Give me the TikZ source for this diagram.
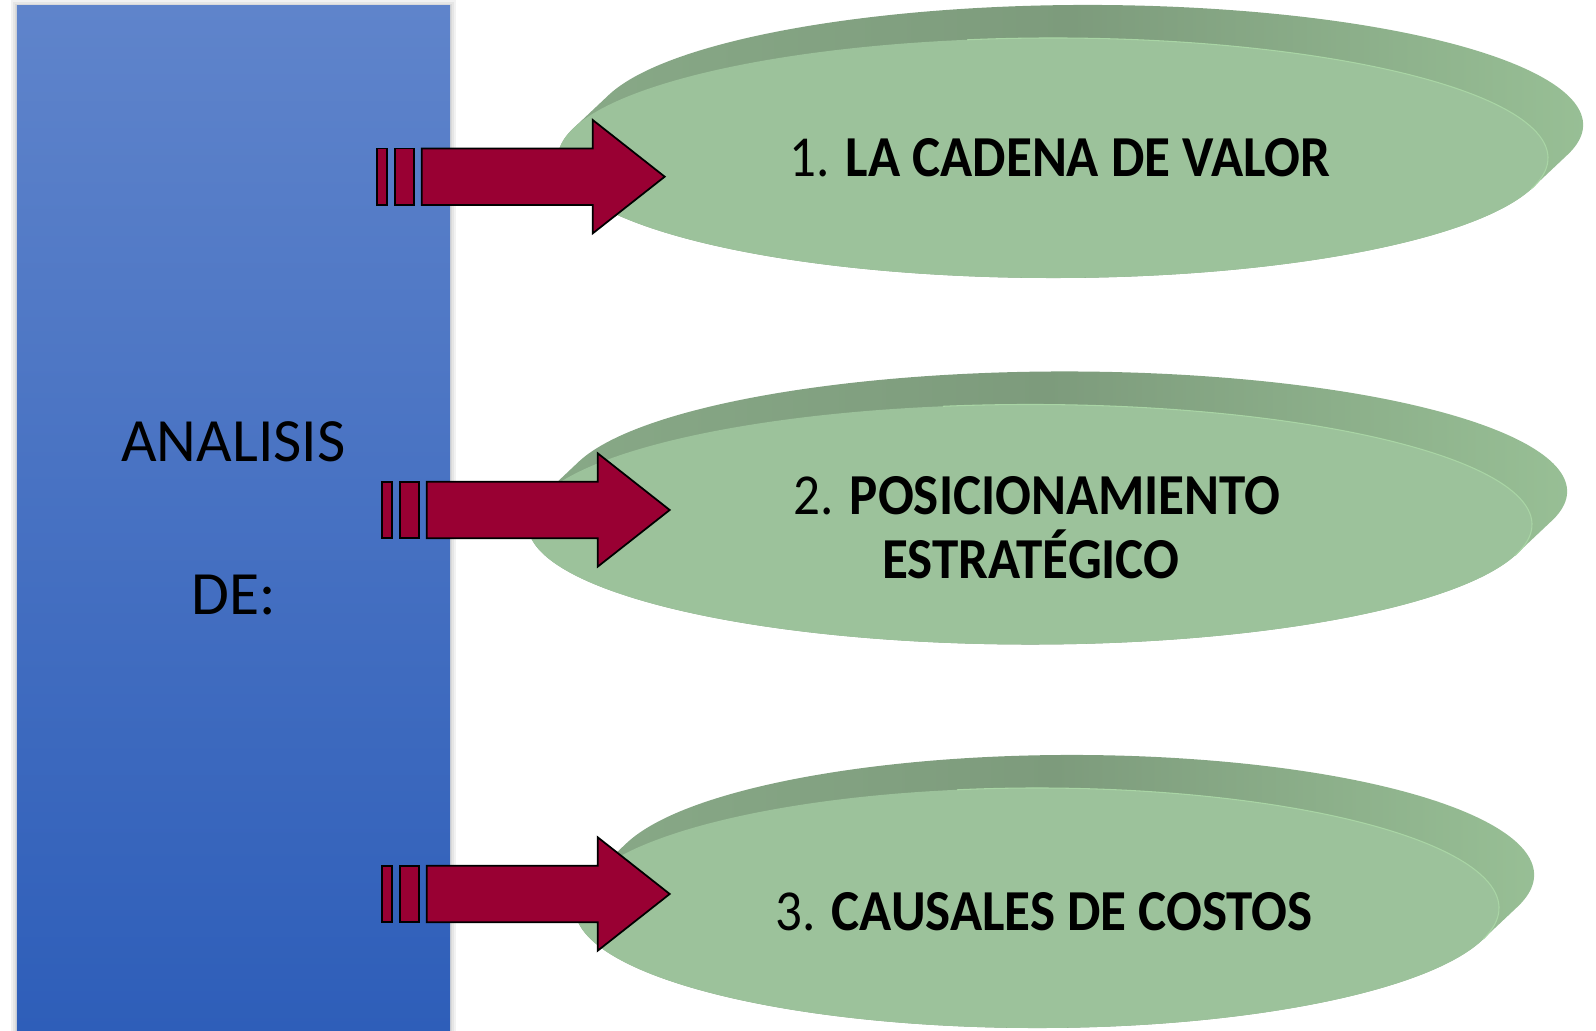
\documentclass[tikz,border=0pt]{standalone}
\usepackage{fontspec}
\setmainfont{Carlito}
\newfontfamily\ovalfont[FakeStretch=0.915]{Carlito}
\usetikzlibrary{shapes.geometric}

\definecolor{boxtop}{HTML}{5F84CB}
\definecolor{boxbottom}{HTML}{2E5EB9}
\definecolor{ovalgreen}{HTML}{9CC29B}
\definecolor{rimdark}{HTML}{7D9B7C}
\definecolor{rimlight}{HTML}{AEDDAA}
\definecolor{arrowred}{HTML}{990033}

\tikzset{
	box/.style={rectangle,top color=boxtop,bottom color=boxbottom,minimum width=86.6mm,minimum height=205mm,inner sep=0pt,align=center,font=\fontsize{35}{86.8}\selectfont},
	oval/.style={ellipse,fill=ovalgreen,inner sep=0pt,minimum height=48mm},
	ovaltext/.style={inner sep=0pt,xshift=1.4mm,align=center,font=\ovalfont\fontsize{33}{36.3}\selectfont},
	rim/.style={left color=rimdark!60!ovalgreen,right color=rimdark!40!rimlight,middle color=rimdark},
	ovaledge/.style={draw=rimlight!70!ovalgreen,line width=0.6pt},
	bar/.style={fill=arrowred,draw=black,line width=1pt,line join=miter}
}

\begin{document}
\begin{tikzpicture}[x=0.2mm,y=0.2mm]
	\useasboundingbox (0,0) rectangle (1596,1031);
	% soft shadow round the box
	\foreach \s in {2,4,6}
		\fill[black,opacity=0.05] (17-\s,0) rectangle (450+\s,1025+\s);
	\node[box] (analisis) at (233.5,512.5) {ANALISIS\\DE:};
	% rims of the three discs
	\foreach \cx/\cy/\rx in {1053/873/495,1030/506.5/502,1037/123/462}
		\path[rim] ({\cx+35+\rx*cos(165)},{\cy+33+120*sin(165)}) arc[start angle=165,end angle=-15,x radius=\rx,y radius=120]
			-- ({\cx+\rx*cos(15)},{\cy-120*sin(15)}) arc[start angle=-15,end angle=-195,x radius=\rx,y radius=120] -- cycle;
	% faces of the discs
	\node[oval,minimum width=198mm,label={[ovaltext]center:1. \textbf{LA CADENA DE VALOR}}] (valor) at (1053,873) {};
	\node[oval,minimum width=200.8mm,label={[ovaltext,yshift=-0.6mm]center:2. \textbf{POSICIONAMIENTO}\\\textbf{ESTRATÉGICO}\kern2.4mm}] (posicion) at (1030,506.5) {};
	\node[oval,minimum width=184.8mm,label={[ovaltext,yshift=-0.8mm]center:3. \textbf{CAUSALES DE COSTOS}}] (costos) at (1037,123) {};
	\foreach \cx/\cy/\rx in {1053/873/495,1030/506.5/502,1037/123/462}
		\draw[ovaledge] ({\cx+\rx*cos(100)},{\cy+120*sin(100)}) arc[start angle=100,end angle=-15,x radius=\rx,y radius=120];
	% striped arrows
	\foreach \x/\y in {376.7/854.3,381.7/521,381.7/137}{
		\draw[bar] (\x,\y-28.3) rectangle (\x+10,\y+28.3);
		\draw[bar] (\x+18,\y-28.3) rectangle (\x+37,\y+28.3);
		\draw[bar] (\x+45,\y-28.3) -- (\x+216,\y-28.3) -- (\x+216,\y-56.7) -- (\x+288,\y) -- (\x+216,\y+56.7) -- (\x+216,\y+28.3) -- (\x+45,\y+28.3) -- cycle;
	}
\end{tikzpicture}
\end{document}
